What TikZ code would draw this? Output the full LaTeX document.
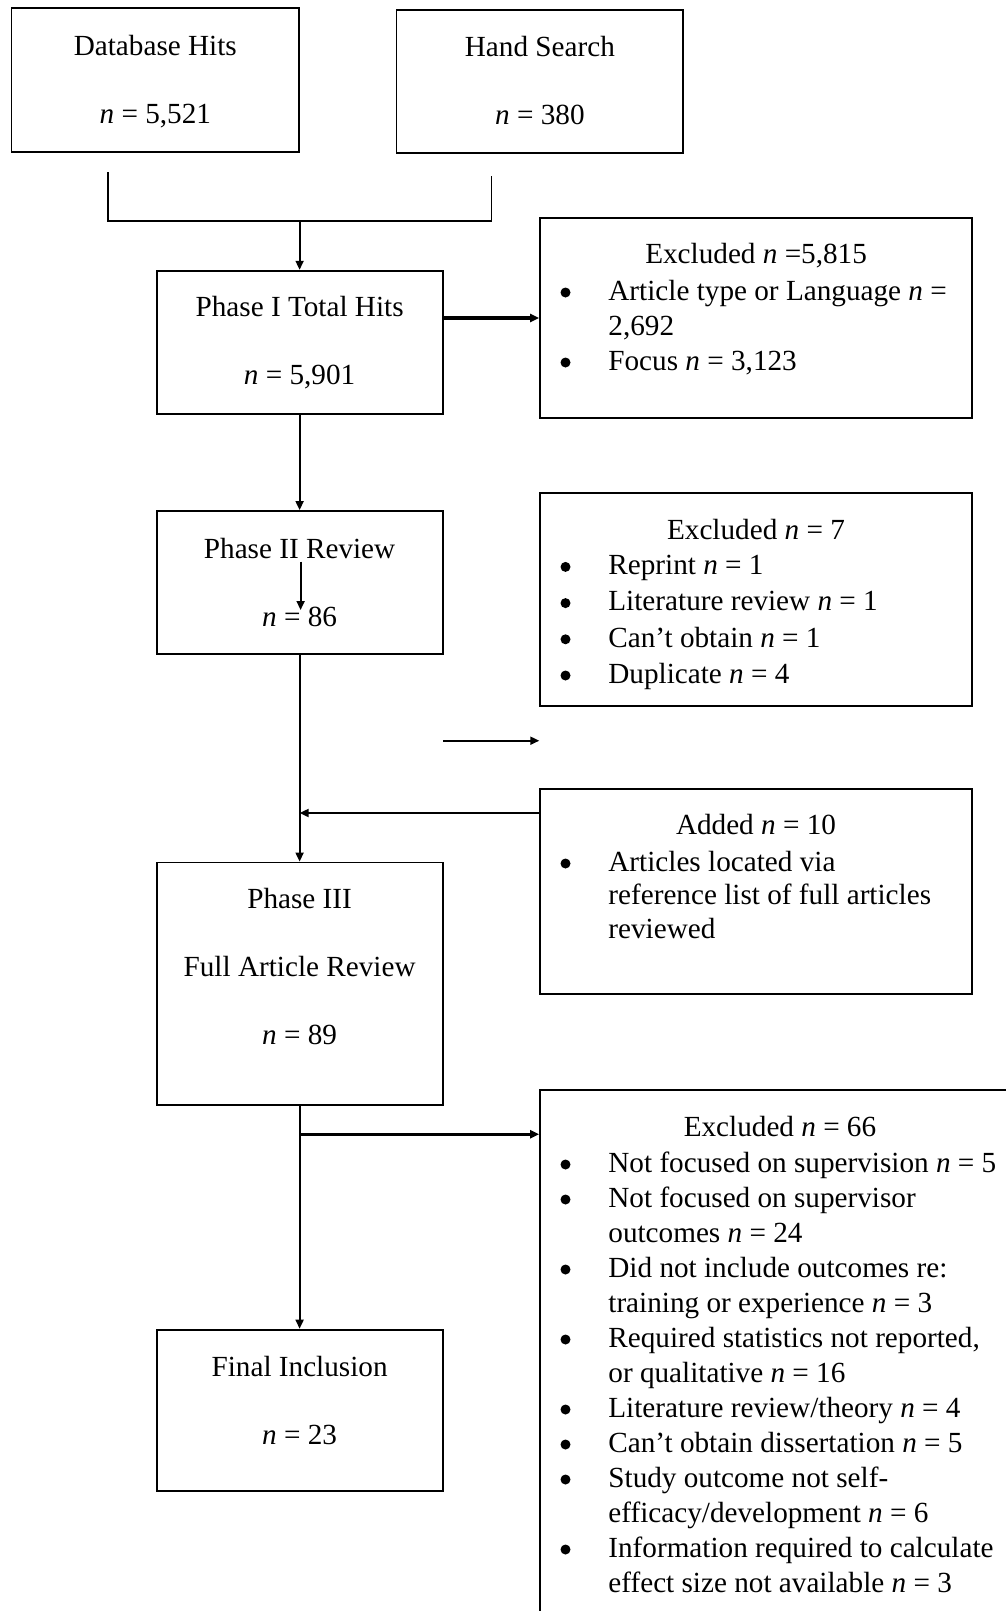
\documentclass[tikz,border=0pt]{standalone}
\usepackage{fontspec}
\setmainfont{Liberation Serif}
\usetikzlibrary{positioning, arrows.meta}
\newcommand{\fz}{\fontsize{29.2}{35}\selectfont}
\newcommand{\bdot}{\tikz[baseline=-7.7pt]\fill (0pt,0pt) circle[radius=5pt];}
\newcommand{\bul}{\makebox[48.7pt][l]{\hspace{0.8pt}\bdot}}
\newcommand{\ind}{\hspace*{48.7pt}}

\begin{document}
\begin{tikzpicture}[x=1pt, y=-1pt, >={Triangle[length=9pt, width=8pt]},
  box/.style={draw, line width=1.8pt, inner sep=0pt},
  phase/.style={box, minimum width=286pt},
  side/.style={box, minimum width=432pt},
  txt/.style={font=\fz, align=center, inner sep=0pt, anchor=north},
  ttl/.style={font=\fz, inner sep=0pt, anchor=base},
  lst/.style={font=\fz, align=left, inner sep=0pt, anchor=north west},
  line/.style={line width=1.8pt},
  fat/.style={line width=3.2pt}]

\useasboundingbox (0,0) rectangle (1006,1611);
\clip (0,0) rectangle (1006,1611);

% Sources
\node[box, minimum width=287.5pt, minimum height=143.4pt] (db) at (155.3,80) {};
\node[box, minimum width=286.8pt, minimum height=142.7pt] (hand) at (539.9,81.4) {};
\node[txt] (db-t) at (155.3,30.5) {\strut Database Hits\\[33pt]\textit{n} = 5,521};
\node[txt] (hand-t) at (539.9,32.2) {\strut Hand Search\\[33pt]\textit{n} = 380};

% Phases
\node[phase, minimum height=143.6pt] (p1) at (299.6,342.5) {};
\node[phase, minimum height=143pt] (p2) at (299.6,582.5) {};
\node[phase, minimum height=242.2pt] (p3) at (299.6,983.6) {};
\node[phase, minimum height=161.2pt] (fin) at (299.6,1410.2) {};
\node[txt] (p1-t) at (299.6,292.2) {\strut Phase I Total Hits\\[33pt]\textit{n} = 5,901};
\node[txt] (p2-t) at (299.6,533.3) {\strut Phase II Review\\[33pt]\textit{n} = 86};
\node[txt] (p3-t) at (299.6,883.5) {\strut Phase III\\[33pt]Full Article Review\\[33pt]\textit{n} = 89};
\node[txt] (fin-t) at (299.6,1351.8) {\strut Final Inclusion\\[33pt]\textit{n} = 23};

% Exclusions and additions
\node[side, minimum height=199.4pt] (ex1) at (756.1,318) {};
\node[side, minimum height=213.1pt] (ex2) at (756,599.3) {};
\node[side, minimum height=205.2pt] (add) at (756,891.3) {};
\node[side, minimum width=480pt, minimum height=550pt] (ex3) at (780,1365.2) {};

\node[ttl] (ex1-t) at (756.1,263.3) {Excluded \textit{n} =5,815};
\node[lst] (ex1-l) at (559.5,275.5) {\strut\bul Article type or Language \textit{n} =\\
  \ind 2,692\\
  \bul Focus \textit{n} = 3,123};

\node[ttl] (ex2-t) at (756,539.1) {Excluded \textit{n} = 7};
\node[lst] (ex2-l) at (559.5,549.9) {\strut\bul Reprint \textit{n} = 1\\[1.2pt]
  \bul Literature review \textit{n} = 1\\[1.2pt]
  \bul Can't obtain \textit{n} = 1\\[1.2pt]
  \bul Duplicate \textit{n} = 4};

\node[ttl] (add-t) at (756,834.7) {Added \textit{n} = 10};
\node[lst] (add-l) at (559.5,846.5) {\strut\bul Articles located via\\[-1.5pt]
  \ind reference list of full articles\\[-1.5pt]
  \ind reviewed};

\node[ttl] (ex3-t) at (780,1136.9) {Excluded \textit{n} = 66};
\node[lst] (ex3-l) at (559.5,1147.5) {\strut\bul Not focused on supervision \textit{n} = 5\\
  \bul Not focused on supervisor\\
  \ind outcomes \textit{n} = 24\\
  \bul Did not include outcomes re:\\
  \ind training or experience \textit{n} = 3\\
  \bul Required statistics not reported,\\
  \ind or qualitative \textit{n} = 16\\
  \bul Literature review/theory \textit{n} = 4\\
  \bul Can't obtain dissertation \textit{n} = 5\\
  \bul Study outcome not self-\\
  \ind efficacy/development \textit{n} = 6\\
  \bul Information required to calculate\\
  \ind effect size not available \textit{n} = 3};

% Bracket joining the sources
\coordinate (brl) at (107.8,172.3);
\coordinate (brr) at (491.5,175.7);
\coordinate (brm) at (299.6,221);
\draw[line] (brl) |- (brm) -| (brr);

% Arrows
\draw[line, ->] (brm) -- (p1.north);
\draw[fat, ->] (p1.east |- ex1.west) -- (ex1.west);
\draw[line, ->] (p1.south) -- (p2.north);
\coordinate (s1) at (300.6,561.7);
\coordinate (s2) at (300.6,610);
\draw[line, ->] (s1) -- (s2);
\coordinate (s3) at (443.3,740.7);
\coordinate (s4) at (539.3,740.7);
\draw[line, ->] (s3) -- (s4);
\draw[line, ->] (p2.south) -- (p3.north);
\coordinate (j1) at (299.6,813);
\draw[line, ->] (add.west |- j1) -- (j1);
\draw[line, ->] (p3.south) -- (fin.north);
\coordinate (j2) at (299.6,1134.2);
\draw[fat, ->] (j2) -- (ex3.west |- j2);

\end{tikzpicture}
\end{document}
